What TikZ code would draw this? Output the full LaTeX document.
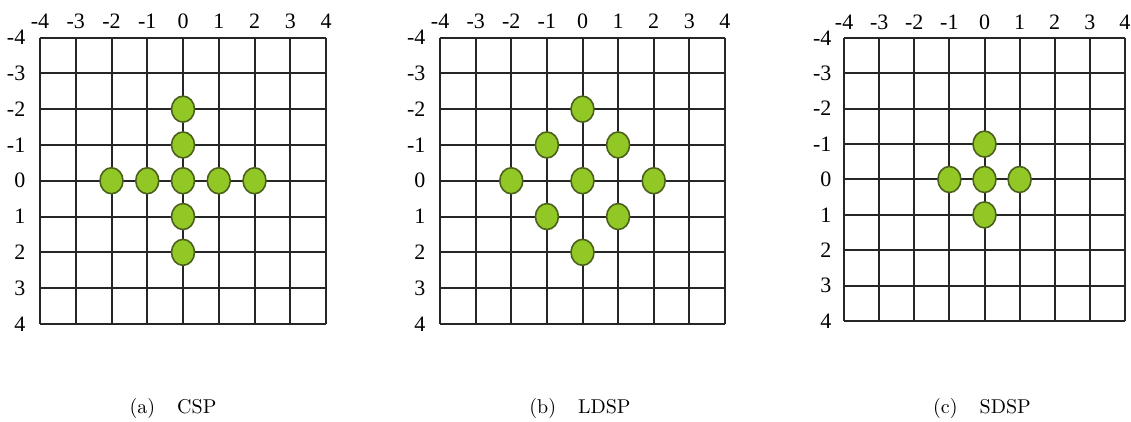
\documentclass[tikz,border=0pt]{standalone}
\usepackage{fontspec}
\newfontfamily\gridfont{Liberation Serif}
\usetikzlibrary{shapes.geometric}
\definecolor{dotFill}{RGB}{146,200,38}
\definecolor{dotEdge}{RGB}{74,96,28}

\begin{document}
\begin{tikzpicture}[x=0.5pt,y=-0.5pt]
\tikzset{
    spGrid/.style={line width=1pt,black!85},
    spDot/.style={ellipse,draw=dotEdge,fill=dotFill,line width=0.8pt,minimum width=11.5pt,minimum height=13pt,inner sep=0pt},
    spTick/.style={font=\gridfont\fontsize{11}{13}\selectfont,inner sep=0pt},
    spCaption/.style={font=\normalsize,anchor=base}
}
\useasboundingbox (0,0) rectangle (1131,422);

% (a) cross search pattern
\begin{scope}[shift={(183,180.75)},x=17.875pt,y=-17.9pt]
\foreach \i in {-4,...,4} {
    \draw[spGrid] (\i,-4) -- (\i,4);
    \draw[spGrid] (-4,\i) -- (4,\i);
    \node[spTick] (cspCol\i) at (\i,-4.45) {\i};
    \node[spTick,anchor=east] (cspRow\i) at (-4.4,\i) {\i};
}
\foreach \px/\py [count=\k] in {0/-2,0/-1,-2/0,-1/0,0/0,1/0,2/0,0/1,0/2}
    \node[spDot] (csp\k) at (\px,\py) {};
\end{scope}

% (b) large diamond search pattern
\begin{scope}[shift={(582.5,180.75)},x=17.8pt,y=-17.9pt]
\foreach \i in {-4,...,4} {
    \draw[spGrid] (\i,-4) -- (\i,4);
    \draw[spGrid] (-4,\i) -- (4,\i);
    \node[spTick] (ldspCol\i) at (\i,-4.45) {\i};
    \node[spTick,anchor=east] (ldspRow\i) at (-4.4,\i) {\i};
}
\foreach \px/\py [count=\k] in {0/-2,-1/-1,1/-1,-2/0,0/0,2/0,-1/1,1/1,0/2}
    \node[spDot] (ldsp\k) at (\px,\py) {};
\end{scope}

% (c) small diamond search pattern
\begin{scope}[shift={(984.5,179.5)},x=17.55pt,y=-17.7pt]
\foreach \i in {-4,...,4} {
    \draw[spGrid] (\i,-4) -- (\i,4);
    \draw[spGrid] (-4,\i) -- (4,\i);
    \node[spTick] (sdspCol\i) at (\i,-4.45) {\i};
    \node[spTick,anchor=east] (sdspRow\i) at (-4.35,\i) {\i};
}
\foreach \px/\py [count=\k] in {0/-1,-1/0,0/0,1/0,0/1}
    \node[spDot] (sdsp\k) at (\px,\py) {};
\end{scope}

\node[spCaption] (capA) at (173,414) {(a)\hspace{1.1em}CSP};
\node[spCaption] (capB) at (580,414) {(b)\hspace{1.1em}LDSP};
\node[spCaption] (capC) at (982,414) {(c)\hspace{1.1em}SDSP};
\end{tikzpicture}
\end{document}
